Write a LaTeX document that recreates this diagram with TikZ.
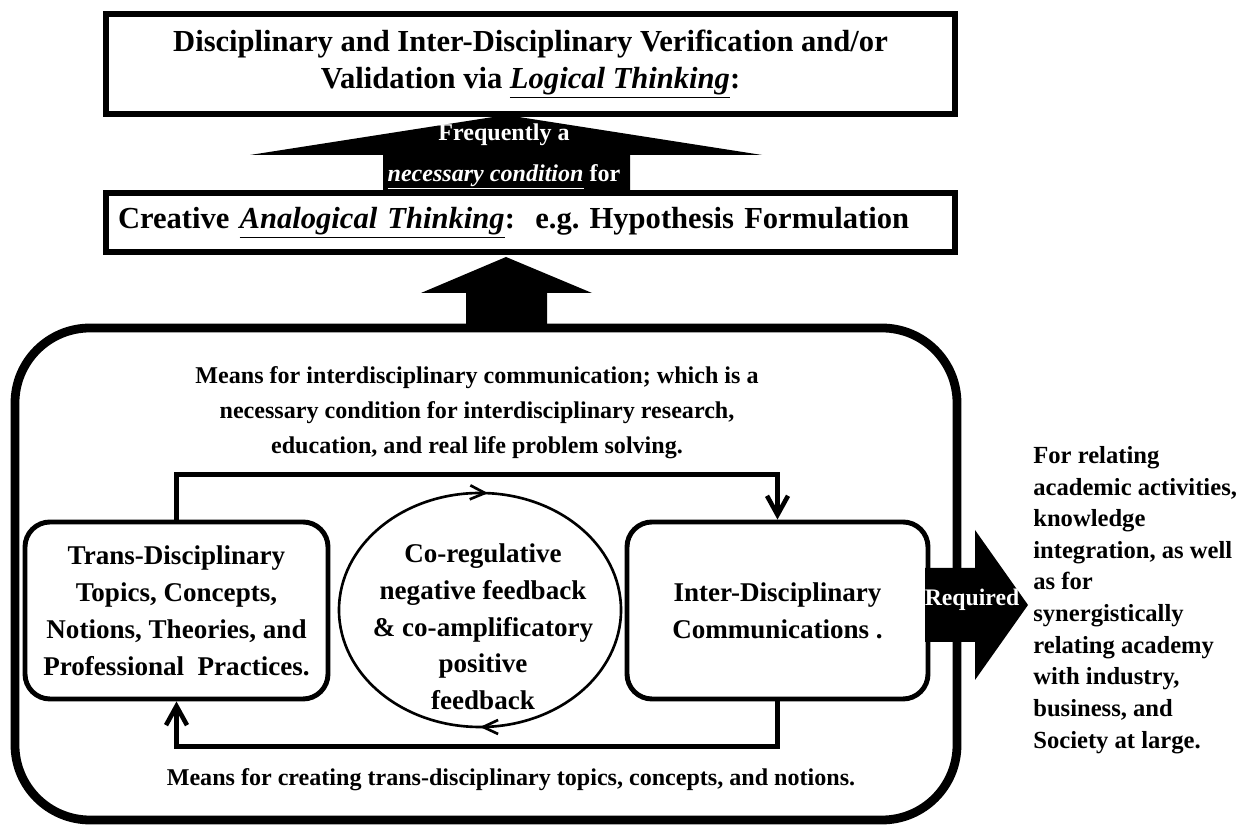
\documentclass[tikz,border=0pt]{standalone}
\usepackage{fontspec}
\setmainfont{Liberation Serif}
\usetikzlibrary{shapes.geometric, arrows.meta, positioning, calc, decorations.markings}
\frenchspacing

\tikzset{
  headbox/.style={draw, line width=3.5pt, minimum width=16.98cm, inner sep=0pt},
  innerbox/.style={draw, line width=2.8pt, rounded corners=0.5cm, align=center, font=\bfseries\fontsize{15.4}{21}\selectfont},
  flowline/.style={line width=2.6pt, -{Straight Barb[length=3.8mm, width=4.2mm]}},
  plaintext/.style={align=center, font=\bfseries\fontsize{13.7}{20}\selectfont},
  looptip/.style={decoration={markings,
    mark=at position 0.24 with {\arrowreversed{Straight Barb[length=3mm, width=2.8mm]}},
    mark=at position 0.75 with {\arrowreversed{Straight Barb[length=3mm, width=2.8mm]}}}, postaction={decorate}},
}

\begin{document}
\begin{tikzpicture}
  \useasboundingbox (0,0) rectangle (24.88,16.52);

  % Verification box
  \node[headbox, minimum height=2cm, align=center, font=\bfseries\fontsize{17.4}{21}\selectfont] (verify) at (10.61, 15.24) {Disciplinary and Inter-Disciplinary Verification and/or\\Validation via \underline{\textit{Logical Thinking}}:};

  % Hypothesis box
  \node[headbox, minimum height=1.18cm, text width=16.5cm, align=left, font=\bfseries\fontsize{17.4}{21}\selectfont] (creative) at (10.61, 12.07) {Creative \underline{\textit{Analogical Thinking}}:\ \ e.g. Hypothesis Formulation};

  % Necessary condition arrow
  \fill (10.12,14.22) -- (15.24,13.42) -- (12.6,13.42) -- (12.6,12.66) -- (7.66,12.66) -- (7.66,13.42) -- (5.0,13.42) -- cycle;
  \node[plaintext, text=white, font=\bfseries\fontsize{13.7}{22.8}\selectfont] (freq) at (10.08,13.38) {Frequently a\\\underline{\textit{necessary condition}} for};

  % Outer frame
  \node[draw, line width=5pt, rounded corners=1.5cm, minimum width=18.84cm, minimum height=9.84cm] (frame) at (9.72,5.04) {};

  % Up arrow into the hypothesis box
  \fill (10.12,11.38) -- (11.84,10.66) -- (10.94,10.66) -- (10.94,9.96) -- (9.32,9.96) -- (9.32,10.66) -- (8.42,10.66) -- cycle;

  % Communication text
  \node[plaintext] (means) at (9.54,8.26) {Means for interdisciplinary communication; which is a\\necessary condition for interdisciplinary research,\\education, and real life problem solving.};

  % Inner boxes
  \node[innerbox, minimum width=6.06cm, minimum height=3.54cm] (tdbox) at (3.53,4.31) {Trans-Disciplinary\\Topics, Concepts,\\Notions, Theories, and\\Professional\ \ Practices.};
  \node[innerbox, minimum width=6.02cm, minimum height=3.54cm] (idbox) at (15.55,4.31) {Inter-Disciplinary\\Communications\ .};

  % Feedback loop
  \node[draw, ellipse, line width=1.5pt, minimum width=5.64cm, minimum height=4.68cm, looptip] (fbloop) at (9.6,4.32) {};
  \node[align=center, font=\bfseries\fontsize{15.4}{20.9}\selectfont] (fbtext) at (9.66,3.98) {Co-regulative\\negative feedback\\\& co-amplificatory\\positive\\feedback};

  % Loop connectors
  \draw[flowline] (tdbox.north) -- ++(0,0.9) -| (idbox.north);
  \draw[flowline] (idbox.south) -- ++(0,-0.9) -| (tdbox.south);

  % Creating text
  \node[plaintext] (create) at (10.22,0.92) {Means for creating trans-disciplinary topics, concepts, and notions.};

  % Required arrow
  \fill (18.5,5.16) -- (19.5,5.16) -- (19.5,5.92) -- (20.56,4.42) -- (19.5,2.92) -- (19.5,3.68) -- (18.5,3.68) -- cycle;
  \node[text=white, font=\bfseries\fontsize{13.5}{16}\selectfont] (req) at (19.44,4.52) {Required};

  % Purpose text
  \node[anchor=west, align=left, inner sep=0pt, font=\bfseries\fontsize{14}{18}\selectfont] (purpose) at (20.66,4.52) {For relating\\academic activities,\\knowledge\\integration, as well\\as for\\synergistically\\relating academy\\with industry,\\business, and\\Society at large.};
\end{tikzpicture}
\end{document}
